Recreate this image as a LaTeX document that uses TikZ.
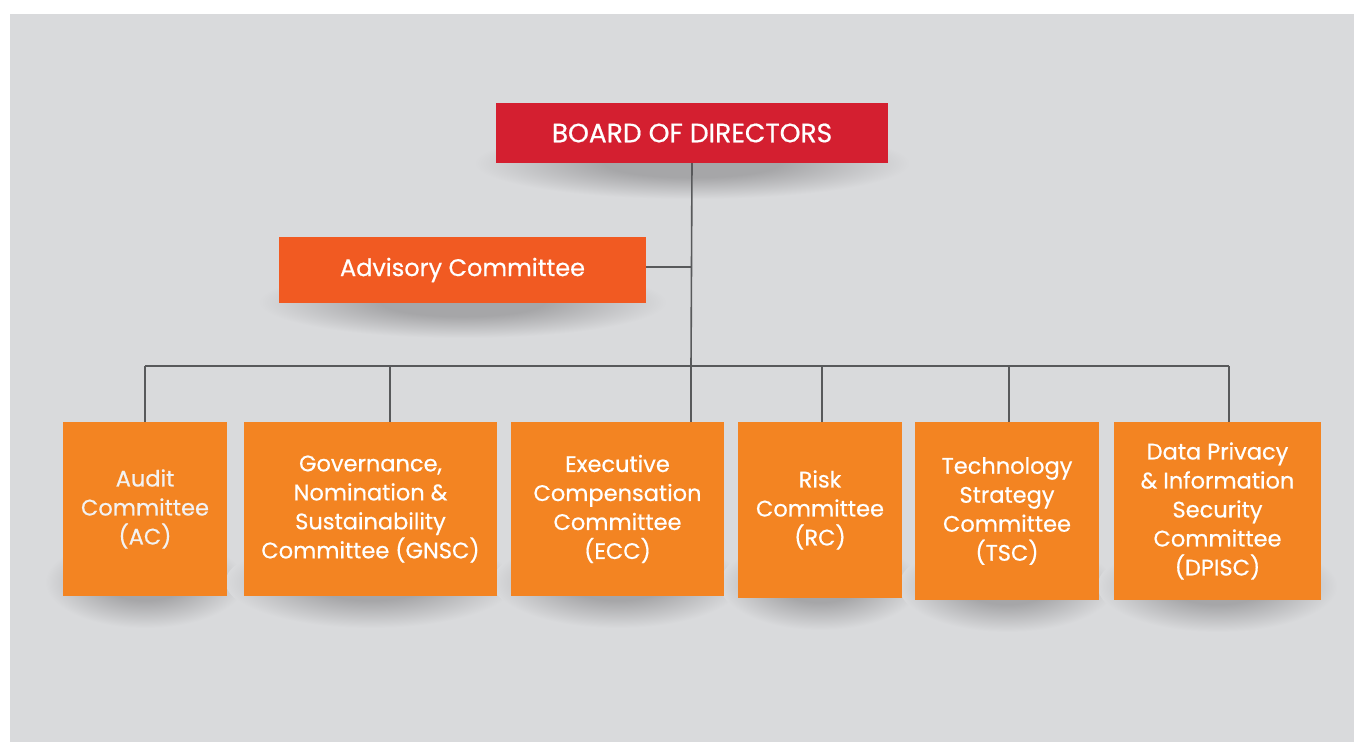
\documentclass[tikz,border=0pt]{standalone}
\usepackage{fontspec}
\setmainfont{Poppins}[FakeBold=0.6]

\definecolor{pagebg}{HTML}{D9DADC}
\definecolor{shadowc}{HTML}{A6A6A8}
\definecolor{boardred}{HTML}{D41F30}
\definecolor{advorange}{HTML}{F15A22}
\definecolor{comorange}{HTML}{F38422}
\definecolor{linkc}{HTML}{58595B}

% soft shadow that fades to the page colour at the ellipse rim
\pgfdeclareradialshading{softshadow}{\pgfpoint{0bp}{0bp}}{%
  color(0bp)=(shadowc); color(10bp)=(shadowc); color(25bp)=(pagebg); color(50bp)=(pagebg)}

\tikzset{
  box/.style={rectangle, inner sep=0pt, text=white, align=center},
  boardbox/.style={box, fill=boardred, font=\fontsize{26.5}{30}\selectfont},
  advbox/.style={box, fill=advorange, font=\fontsize{24}{30}\selectfont},
  combox/.style={box, fill=comorange, font=\fontsize{22.5}{29}\selectfont},
  link/.style={draw=linkc, line width=1.6pt},
  shadowblob/.style={shading=softshadow}
}

\begin{document}
\begin{tikzpicture}[x=1pt,y=-1pt]
  \useasboundingbox (0,0) rectangle (1354,742);
  \fill[white] (0,0) rectangle (1354,742);
  \fill[pagebg] (10,14) rectangle (1354,742);

  % shadows under the boxes
  \shade[shadowblob] (692,163) ellipse [x radius=218, y radius=36];
  \shade[shadowblob] (462.5,302) ellipse [x radius=204, y radius=36];
  \shade[shadowblob] (145,582) ellipse [x radius=100, y radius=46];
  \shade[shadowblob] (370.5,582) ellipse [x radius=145, y radius=46];
  \shade[shadowblob] (617.5,582) ellipse [x radius=125, y radius=46];
  \shade[shadowblob] (820,584) ellipse [x radius=100, y radius=46];
  \shade[shadowblob] (1007,586) ellipse [x radius=108, y radius=46];
  \shade[shadowblob] (1217.5,586) ellipse [x radius=120, y radius=46];

  % connector junctions
  \coordinate (advj) at (691,267);
  \coordinate (busc) at (691,366);
  \coordinate (bus1) at (145,366);
  \coordinate (bus2) at (390,366);
  \coordinate (bus4) at (822,366);
  \coordinate (bus5) at (1009,366);
  \coordinate (bus6) at (1229,366);

  % boxes
  \node[boardbox, minimum width=392pt, minimum height=60pt] (board) at (692,133) {BOARD OF DIRECTORS};
  \node[advbox, minimum width=367pt, minimum height=66pt] (adv) at (462.5,270) {Advisory Committee};

  \node[combox, minimum width=164pt, minimum height=174pt, text=white!90!gray] (ac) at (145,509)
    {Audit\\Committee\\(AC)};
  \node[combox, minimum width=253pt, minimum height=174pt] (gnsc) at (370.5,509)
    {Governance,\\Nomination \&\\Sustainability\\Committee (GNSC)};
  \node[combox, minimum width=213pt, minimum height=174pt] (ecc) at (617.5,509)
    {Executive\\Compensation\\Committee\\(ECC)};
  \node[combox, minimum width=164pt, minimum height=176pt] (rc) at (820,510)
    {Risk\\Committee\\(RC)};
  \node[combox, minimum width=184pt, minimum height=178pt] (tsc) at (1007,511)
    {Technology\\Strategy\\Committee\\(TSC)};
  \node[combox, minimum width=207pt, minimum height=178pt] (dpisc) at (1217.5,511)
    {Data Privacy\\\& Information\\Security\\Committee\\(DPISC)};

  % connectors
  \draw[link] (board.south) -- (busc);
  \draw[link] (adv.east |- advj) -- (advj);
  \draw[link] (bus1) -- (bus6);
  \draw[link] (bus1) -- (ac.north);
  \draw[link] (bus2) -- (bus2 |- gnsc.north);
  \draw[link] (busc) -- (busc |- ecc.north);
  \draw[link] (bus4) -- (bus4 |- rc.north);
  \draw[link] (bus5) -- (bus5 |- tsc.north);
  \draw[link] (bus6) -- (bus6 |- dpisc.north);
\end{tikzpicture}
\end{document}
